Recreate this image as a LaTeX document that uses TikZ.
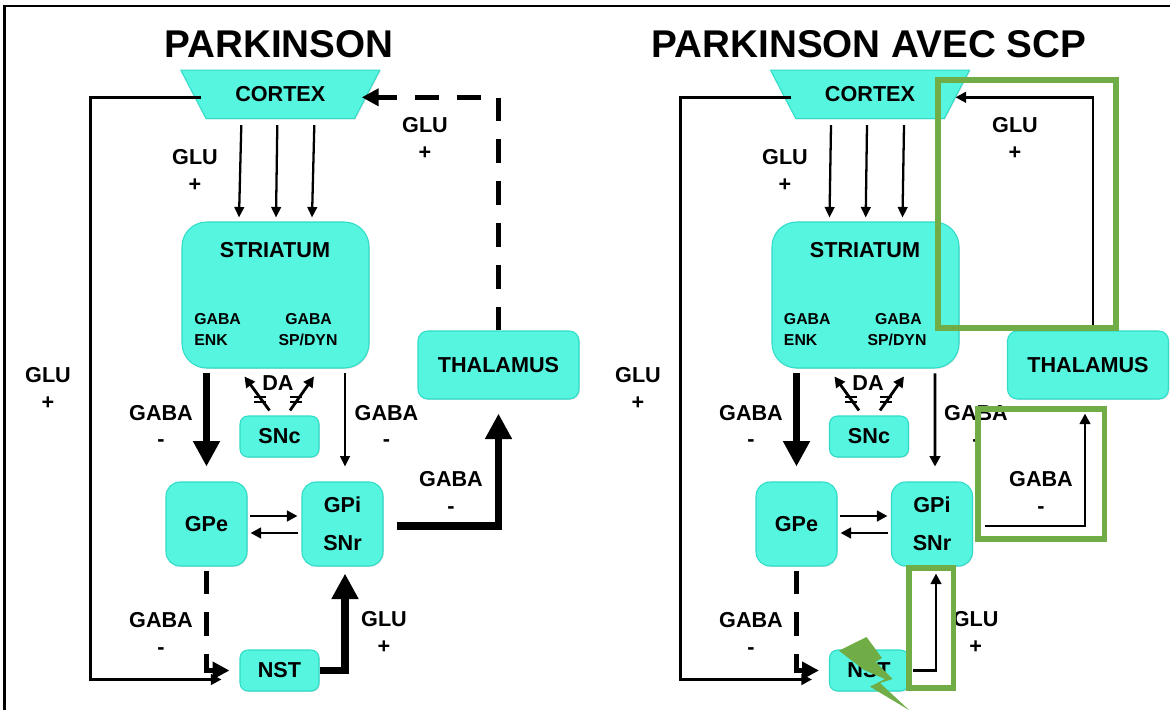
\documentclass[tikz,border=0pt]{standalone}
\usepackage{fontspec}
\setmainfont{Liberation Sans}
\usetikzlibrary{arrows.meta,shapes.geometric,shadows}
\definecolor{boxfill}{HTML}{55F5E0}
\definecolor{boxline}{HTML}{30DCC8}
\definecolor{scpgreen}{HTML}{70AD47}
\begin{document}
\begin{tikzpicture}[>=stealth,x=0.02cm,y=-0.02cm,
		box/.style={draw=boxline,fill=boxfill,line width=0.6pt,inner sep=0pt,align=center,
			font=\fontsize{12.3}{21.5}\selectfont\bfseries,
			drop shadow={shadow xshift=0.5pt,shadow yshift=-0.5pt,opacity=0.25}},
		cortexbox/.style={box,trapezium,shape border rotate=180,trapezium angle=45,trapezium stretches=true,minimum width=4cm,minimum height=0.97cm},
		stratbox/.style={box,rounded corners=14pt,minimum width=3.74cm,minimum height=2.92cm},
		thalbox/.style={box,rounded corners=5.5pt,minimum width=3.22cm,minimum height=1.36cm},
		smallbox/.style={box,rounded corners=4.5pt,minimum width=1.58cm,minimum height=0.82cm},
		gpbox/.style={box,rounded corners=8pt,minimum width=1.62cm,minimum height=1.68cm},
		lab/.style={inner sep=0pt,align=center,font=\fontsize{12.3}{15.3}\selectfont\bfseries},
		sublab/.style={inner sep=0pt,font=\fontsize{9}{12}\selectfont\bfseries},
		titlelab/.style={inner sep=0pt,font=\fontsize{22}{26}\selectfont\bfseries},
		thinarrow/.style={line width=1.3pt,-{Triangle[length=6pt,width=5.5pt]}},
		medarrow/.style={line width=1.6pt,-{Triangle[length=6pt,width=6pt]}},
		bigarrow/.style={line width=4.5pt,-{Triangle[length=14.5pt,width=14.5pt]}},
		dasharrow/.style={line width=3.1pt,dash pattern=on 13.6pt off 10.2pt,-{Triangle[length=9.6pt,width=9.6pt]}},
		tick/.style={line width=1.4pt},
		scpbox/.style={draw=scpgreen,line width=2.9pt}]
	\useasboundingbox (0,0) rectangle (1170,710);
	\draw[line width=1.2pt] (4.5,710)--(4.5,6)--(1170,6);
	% PARKINSON
	\node[titlelab] (titleL) at (279,44) {PARKINSON};
	\node[cortexbox] (cortexL) at (280.3,94.3) {CORTEX};
	\node[stratbox] (stratL) at (275.5,295) {};
	\node[lab] (stratnameL) at (275,250) {STRIATUM};
	\node[sublab,anchor=west] (gabaoneL) at (194,319) {GABA};
	\node[sublab,anchor=west] (enkL) at (194,340) {ENK};
	\node[sublab] (gabatwoL) at (308.6,319) {GABA};
	\node[sublab] (dynL) at (308,340) {SP/DYN};
	\node[thalbox] (thalL) at (498.5,365) {THALAMUS};
	\node[smallbox] (sncL) at (279.5,436.5) {SNc};
	\node[gpbox] (gpeL) at (206.5,524) {GPe};
	\node[gpbox] (gpiL) at (342.5,524) {GPi\\SNr};
	\node[smallbox] (nstL) at (279.5,670.5) {NST};
	\draw[thinarrow] ([shift={(-39,6)}]cortexL.south)--([shift={(-36.5,-4)}]stratL.north);
	\draw[thinarrow] ([shift={(-3,6)}]cortexL.south)--([shift={(0.5,-4)}]stratL.north);
	\draw[thinarrow] ([shift={(34,6)}]cortexL.south)--([shift={(36.5,-4)}]stratL.north);
	\draw[medarrow] ([shift={(8,3)}]cortexL.west)-- ++(-110,0) |- ([shift={(-18,9)}]nstL.west);
	\draw[dasharrow] (thalL.north) |- ([shift={(-6,3)}]cortexL.east);
	\draw[bigarrow,shorten <=2.8pt,shorten >=8.5pt] (gpeL.north |- stratL.south)--(gpeL.north);
	\draw[thinarrow,shorten <=2.8pt,shorten >=8.5pt] ([shift={(69.5,0)}]stratL.south)--([shift={(2.5,0)}]gpiL.north);
	\draw[medarrow] ([shift={(-10,-5)}]sncL.north)--([shift={(-31,8)}]stratL.south);
	\draw[medarrow] ([shift={(10.5,-5)}]sncL.north)--([shift={(38.5,8)}]stratL.south);
	\draw[tick] (254,397)--(266,397) (254,402)--(266,402);
	\draw[tick] (290,397)--(302,397) (290,402)--(302,402);
	\draw[medarrow] ([shift={(2.5,-8)}]gpeL.east)--([shift={(-4,-8)}]gpiL.west);
	\draw[medarrow] ([shift={(-3,9)}]gpiL.west)--([shift={(3,9)}]gpeL.east);
	\draw[bigarrow,shorten >=8pt] ([shift={(13,2)}]gpiL.east) -| (thalL.south);
	\draw[dasharrow,shorten <=2.3pt,shorten >=5.7pt] (gpeL.south) |- (nstL.west);
	\draw[bigarrow,shorten >=4pt] (nstL.east) -| ([shift={(2.5,0)}]gpiL.south);
	\node[lab] (gluaL) at (195,170.5) {GLU\\+};
	\node[lab] (glubL) at (425,138.5) {GLU\\+};
	\node[lab] (glucL) at (48,388.5) {GLU\\+};
	\node[lab] (gabaaL) at (161,426) {GABA\\-};
	\node[lab] (gababL) at (386.5,426) {GABA\\-};
	\node[lab] (gabacL) at (451,492.5) {GABA\\-};
	\node[lab] (gabadL) at (161,633.5) {GABA\\-};
	\node[lab] (gludL) at (384,632.5) {GLU\\+};
	\node[lab] (daL) at (278,383) {DA};
	% PARKINSON AVEC SCP
	\node[titlelab] (titleR) at (869,44) {PARKINSON AVEC SCP};
	\node[cortexbox] (cortexR) at (870,94.3) {CORTEX};
	\node[stratbox] (stratR) at (865.5,295) {};
	\node[lab] (stratnameR) at (865,250) {STRIATUM};
	\node[sublab,anchor=west] (gabaoneR) at (783.6,319) {GABA};
	\node[sublab,anchor=west] (enkR) at (783.6,340) {ENK};
	\node[sublab] (gabatwoR) at (898.4,319) {GABA};
	\node[sublab] (dynR) at (897,340) {SP/DYN};
	\node[thalbox] (thalR) at (1088,365) {THALAMUS};
	\node[smallbox] (sncR) at (869,436.5) {SNc};
	\node[gpbox] (gpeR) at (796.5,524) {GPe};
	\node[gpbox] (gpiR) at (932,524) {GPi\\SNr};
	\node[smallbox] (nstR) at (869,670.5) {NST};
	\draw[thinarrow] ([shift={(-39,6)}]cortexR.south)--([shift={(-36,-4)}]stratR.north);
	\draw[thinarrow] ([shift={(-3,6)}]cortexR.south)--([shift={(0.2,-4)}]stratR.north);
	\draw[thinarrow] ([shift={(34,6)}]cortexR.south)--([shift={(37,-4)}]stratR.north);
	\draw[medarrow] ([shift={(8,3)}]cortexR.west)-- ++(-110,0) |- ([shift={(-17,9)}]nstR.west);
	\draw[medarrow] ([shift={(5,0)}]thalR.north) |- ([shift={(-2,3)}]cortexR.east);
	\draw[bigarrow,shorten <=2.8pt,shorten >=8.5pt] (gpeR.north |- stratR.south)--(gpeR.north);
	\draw[medarrow,shorten <=2.8pt,shorten >=8.5pt] ([shift={(69.5,0)}]stratR.south)--([shift={(3,0)}]gpiR.north);
	\draw[medarrow] ([shift={(-10,-5)}]sncR.north)--([shift={(-31,8)}]stratR.south);
	\draw[medarrow] ([shift={(11,-5)}]sncR.north)--([shift={(38.5,8)}]stratR.south);
	\draw[tick] (845,397)--(857,397) (845,402)--(857,402);
	\draw[tick] (880,397)--(892,397) (880,402)--(892,402);
	\draw[medarrow] ([shift={(2,-8)}]gpeR.east)--([shift={(-3.5,-8)}]gpiR.west);
	\draw[medarrow] ([shift={(-2.5,9)}]gpiR.west)--([shift={(3,9)}]gpeR.east);
	\draw[medarrow,shorten >=8pt] ([shift={(12,2)}]gpiR.east) -| ([shift={(-3,0)}]thalR.south);
	\draw[dasharrow,shorten <=2.3pt,shorten >=5.7pt] (gpeR.south) |- (nstR.west);
	\draw[medarrow,shorten >=4pt] ([shift={(4,0)}]nstR.east) -| ([shift={(4,0)}]gpiR.south);
	\node[lab] (gluaR) at (785,170.5) {GLU\\+};
	\node[lab] (glubR) at (1015,138.5) {GLU\\+};
	\node[lab] (glucR) at (638,388.5) {GLU\\+};
	\node[lab] (gabaaR) at (751,426) {GABA\\-};
	\node[lab] (gababR) at (976,426) {GABA\\-};
	\node[lab] (gabacR) at (1041,492.5) {GABA\\-};
	\node[lab] (gabadR) at (751,633.5) {GABA\\-};
	\node[lab] (gludR) at (975.6,632.5) {GLU\\+};
	\node[lab] (daR) at (868,383) {DA};
	% SCP
	\draw[scpbox] (938,80) rectangle (1116,328);
	\draw[scpbox] (978,409) rectangle (1104.7,539);
	\draw[scpbox] (909,568) rectangle (953.5,688);
	\fill[scpgreen] (839,650.7)--(866.5,637)--(882,658)--(875.6,662)--(892.7,679)--(880,683)--(909,710)--(870,686.7)--(885,679)--(864,670)--cycle;
\end{tikzpicture}
\end{document}
